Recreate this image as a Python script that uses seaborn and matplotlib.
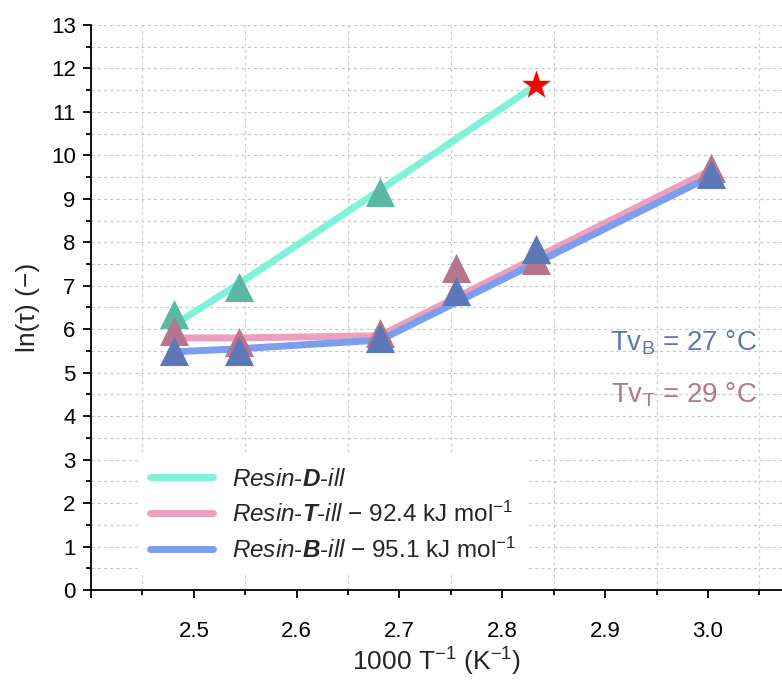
import matplotlib
matplotlib.use("Agg")
import matplotlib.pyplot as plt
import seaborn as sns
import numpy as np
import pandas as pd

# ---- data ----
x_all = [2.481, 2.544, 2.681, 2.755, 2.833, 3.003]

# Resin-D-ill
d_marker_x = [2.481, 2.544, 2.681]
d_marker_y = [6.35, 6.97, 9.15]
d_line_x = [2.481, 2.544, 2.681, 2.833]
d_line_y = [6.10, 7.05, 9.20, 11.62]
star_x = [2.833]
star_y = [11.62]

# Resin-T-ill
t_marker_y = [5.95, 5.70, 5.92, 7.42, 7.60, 9.72]
t_line_x = [2.481, 2.544, 2.681, 3.003]
t_line_y = [5.80, 5.80, 5.85, 9.66]

# Resin-B-ill
b_marker_y = [5.50, 5.50, 5.80, 6.88, 7.85, 9.57]
b_line_x = [2.481, 2.544, 2.681, 3.003]
b_line_y = [5.48, 5.55, 5.75, 9.52]

labels = [r"$\mathit{Resin}$-$\mathbfit{D}$-$\mathit{ill}$",
          r"$\mathit{Resin}$-$\mathbfit{T}$-$\mathit{ill}$ $-$ 92.4 kJ mol$^{\mathregular{-1}}$",
          r"$\mathit{Resin}$-$\mathbfit{B}$-$\mathit{ill}$ $-$ 95.1 kJ mol$^{\mathregular{-1}}$"]
tv_texts = [r"Tv$_\mathregular{B}$ = 27 °C", r"Tv$_\mathregular{T}$ = 29 °C"]

x_ticks = [2.4, 2.5, 2.6, 2.7, 2.8, 2.9, 3.0]
x_ticklabels = ["", "2.5", "2.6", "2.7", "2.8", "2.9", "3.0"]
y_ticks = list(range(0, 14))

# ---- colors ----
c_d_line, c_d_mk = "#80F2DA", "#5BB8A2"
c_t_line, c_t_mk = "#EE9EBE", "#B5758E"
c_b_line, c_b_mk = "#7B9FEE", "#5D78B8"

sns.set_theme(style="white")
plt.rcParams["font.family"] = ["Liberation Sans", "DejaVu Sans"]
plt.rcParams["mathtext.fontset"] = "custom"
plt.rcParams["mathtext.rm"] = "Liberation Sans"
plt.rcParams["mathtext.it"] = "Liberation Sans:italic"
plt.rcParams["mathtext.bf"] = "Liberation Sans:bold"
plt.rcParams["mathtext.bfit"] = "Liberation Sans:bold:italic"

fig = plt.figure(figsize=(7.82, 6.82), dpi=100)
ax = fig.add_axes([91/782, 92/682, 691/782, 565/682])

lw = 5
sns.lineplot(x=d_line_x, y=d_line_y, ax=ax, color=c_d_line, lw=lw, sort=False,
             label=labels[0], zorder=2, solid_capstyle="round")
sns.lineplot(x=t_line_x, y=t_line_y, ax=ax, color=c_t_line, lw=lw, sort=False,
             label=labels[1], zorder=2, solid_capstyle="round")
sns.lineplot(x=b_line_x, y=b_line_y, ax=ax, color=c_b_line, lw=lw, sort=False,
             label=labels[2], zorder=2.1, solid_capstyle="round")

ms = 440
sns.scatterplot(x=d_marker_x, y=d_marker_y, ax=ax, marker="^", s=ms, color=c_d_mk,
                linewidth=0, legend=False, zorder=3)
sns.scatterplot(x=x_all, y=t_marker_y, ax=ax, marker="^", s=ms, color=c_t_mk,
                linewidth=0, legend=False, zorder=3)
sns.scatterplot(x=x_all, y=b_marker_y, ax=ax, marker="^", s=ms, color=c_b_mk,
                linewidth=0, legend=False, zorder=3.1)
sns.scatterplot(x=star_x, y=star_y, ax=ax, marker="*", s=480, color="#FF0000",
                linewidth=0, legend=False, zorder=4)

ax.set_xlim(2.401, 3.072)
ax.set_ylim(0, 13)
ax.set_xticks(x_ticks)
ax.set_xticklabels(x_ticklabels)
ax.set_xticks(np.arange(2.45, 3.06, 0.1), minor=True)
ax.set_yticks(y_ticks)
ax.set_yticks(np.arange(0.5, 13, 1.0), minor=True)

for s in ["top", "right"]:
    ax.spines[s].set_visible(False)
for s in ["left", "bottom"]:
    ax.spines[s].set_color("black")
    ax.spines[s].set_linewidth(1.3)

ax.tick_params(axis="both", which="major", direction="out", length=6, width=1.3,
               color="black", labelsize=16, labelcolor="black", pad=5,
               left=True, bottom=True)
ax.tick_params(axis="both", which="minor", direction="out", length=3.5, width=1.3,
               color="black", left=True, bottom=True)
ax.tick_params(axis="x", which="major", pad=16)

# grid: horizontal at every 0.5, vertical at the minor x positions
for yv in np.arange(0.5, 13.01, 0.5):
    ax.axhline(yv, color="#C8C8C8", lw=0.9, ls=(0, (2.5, 2.5)), zorder=0)
for xv in np.arange(2.45, 3.06, 0.1):
    ax.axvline(xv, color="#D0D0D0", lw=0.9, ls=(0, (2.5, 2.5)), zorder=0)

ax.set_xlabel(r"1000 T$^{\mathregular{-1}}$ (K$^{\mathregular{-1}}$)", fontsize=19, labelpad=3)
ax.set_ylabel("ln(τ) (−)", fontsize=19, labelpad=8)

ax.text(3.048, 5.7, tv_texts[0], color=c_b_mk, fontsize=20, ha="right", va="center")
ax.text(3.048, 4.5, tv_texts[1], color=c_t_mk, fontsize=20, ha="right", va="center")

leg = ax.legend(loc="lower left", bbox_to_anchor=(0.05, 0.005), fontsize=17.5,
                frameon=True, facecolor="white", edgecolor="none", framealpha=1,
                fancybox=False, handlelength=2.6, handletextpad=0.8,
                labelspacing=0.45, borderpad=0.5)
leg.set_zorder(5)

fig.savefig("out.png", dpi=100)
